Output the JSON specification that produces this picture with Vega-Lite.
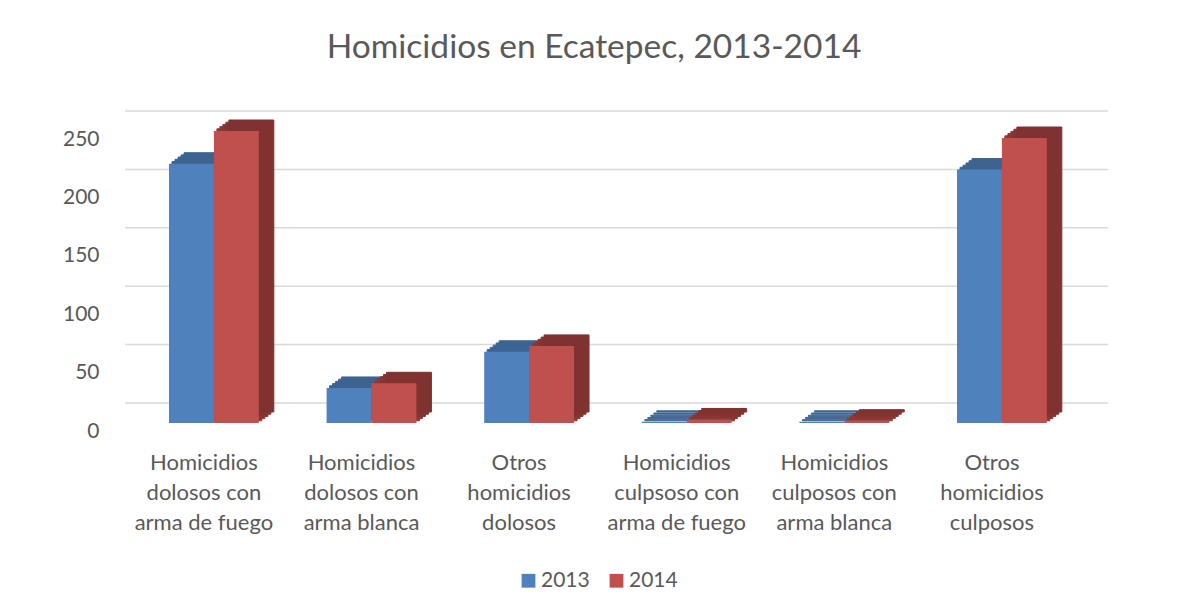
{
  "$schema": "https://vega.github.io/schema/vega-lite/v6.json",
  "autosize": {"type": "none"},
  "padding": {"left": 125, "top": 131, "right": 110, "bottom": 193},
  "width": 948,
  "height": 292,
  "background": "white",
  "title": {
    "text": "Homicidios en Ecatepec, 2013-2014",
    "font": "Lato",
    "fontSize": 33.5,
    "fontWeight": "normal",
    "color": "#595959",
    "anchor": "middle",
    "frame": "group",
    "offset": 45,
    "dx": -5
  },
  "data": {
    "values": [
      {"cat": "Homicidios|dolosos con|arma de fuego", "year": "2013", "value": 222},
      {"cat": "Homicidios|dolosos con|arma de fuego", "year": "2014", "value": 250},
      {"cat": "Homicidios|dolosos con|arma blanca", "year": "2013", "value": 30},
      {"cat": "Homicidios|dolosos con|arma blanca", "year": "2014", "value": 34},
      {"cat": "Otros|homicidios|dolosos", "year": "2013", "value": 61},
      {"cat": "Otros|homicidios|dolosos", "year": "2014", "value": 66},
      {"cat": "Homicidios|culpsoso con|arma de fuego", "year": "2013", "value": 1},
      {"cat": "Homicidios|culpsoso con|arma de fuego", "year": "2014", "value": 3},
      {"cat": "Homicidios|culposos con|arma blanca", "year": "2013", "value": 1},
      {"cat": "Homicidios|culposos con|arma blanca", "year": "2014", "value": 2},
      {"cat": "Otros|homicidios|culposos", "year": "2013", "value": 217},
      {"cat": "Otros|homicidios|culposos", "year": "2014", "value": 244}
    ]
  },
  "layer": [
    {
      "data": {"values": [{"v": 0}, {"v": 50}, {"v": 100}, {"v": 150}, {"v": 200}, {"v": 250}]},
      "mark": {"type": "rule", "color": "#d9d9d9", "strokeWidth": 1.5, "xOffset": 35, "yOffset": -20},
      "encoding": {"y": {"field": "v", "type": "quantitative", "title": null}}
    },
    {
      "encoding": {
        "x": {
          "field": "cat", "type": "nominal", "sort": null, "title": null,
          "scale": {"paddingInner": 0.43, "paddingOuter": 0.2226, "align": 0.627},
          "axis": {
            "domain": false, "ticks": false, "labelAngle": 0, "labelAlign": "center",
            "labelExpr": "split(datum.label, '|')",
            "labelLineHeight": 30, "labelFont": "Lato", "labelFontSize": 22,
            "labelColor": "#595959", "labelPadding": 29, "labelOffset": -10,
            "labelLimit": 300, "labelBaseline": "top"
          }
        },
        "y": {
          "field": "value", "type": "quantitative", "title": null,
          "scale": {"domain": [0, 250], "nice": false},
          "axis": {
            "values": [0, 50, 100, 150, 200, 250],
            "grid": false, "domain": false, "ticks": false,
            "labelFont": "Lato", "labelFontSize": 21, "labelColor": "#595959",
            "labelPadding": 26, "labelOffset": 8
          }
        }
      },
      "layer": [
        {"transform": [{"filter": "datum.year == '2013'"}],
         "mark": {"type": "bar", "width": {"band": 0.5}, "color": "#3d6491", "stroke": "#3d6491", "strokeWidth": 1, "xOffset": -19.45, "yOffset": -2.2}},
        {"transform": [{"filter": "datum.year == '2013'"}],
         "mark": {"type": "bar", "width": {"band": 0.5}, "color": "#3d6491", "stroke": "#3d6491", "strokeWidth": 1, "xOffset": -16.45, "yOffset": -4.4}},
        {"transform": [{"filter": "datum.year == '2013'"}],
         "mark": {"type": "bar", "width": {"band": 0.5}, "color": "#3d6491", "stroke": "#3d6491", "strokeWidth": 1, "xOffset": -13.45, "yOffset": -6.6}},
        {"transform": [{"filter": "datum.year == '2013'"}],
         "mark": {"type": "bar", "width": {"band": 0.5}, "color": "#3d6491", "stroke": "#3d6491", "strokeWidth": 1, "xOffset": -10.45, "yOffset": -8.8}},
        {"transform": [{"filter": "datum.year == '2013'"}],
         "mark": {"type": "bar", "width": {"band": 0.5}, "color": "#3d6491", "stroke": "#3d6491", "strokeWidth": 1, "xOffset": -7.45, "yOffset": -11}},
        {"transform": [{"filter": "datum.year == '2014'"}],
         "mark": {"type": "bar", "width": {"band": 0.5}, "color": "#8e3937", "stroke": "#8e3937", "strokeWidth": 1, "xOffset": 25.45, "yOffset": -2.2}},
        {"transform": [{"filter": "datum.year == '2014'"}],
         "mark": {"type": "bar", "width": {"band": 0.5}, "color": "#8a3735", "stroke": "#8a3735", "strokeWidth": 1, "xOffset": 28.45, "yOffset": -4.4}},
        {"transform": [{"filter": "datum.year == '2014'"}],
         "mark": {"type": "bar", "width": {"band": 0.5}, "color": "#873533", "stroke": "#873533", "strokeWidth": 1, "xOffset": 31.45, "yOffset": -6.6}},
        {"transform": [{"filter": "datum.year == '2014'"}],
         "mark": {"type": "bar", "width": {"band": 0.5}, "color": "#833431", "stroke": "#833431", "strokeWidth": 1, "xOffset": 34.45, "yOffset": -8.8}},
        {"transform": [{"filter": "datum.year == '2014'"}],
         "mark": {"type": "bar", "width": {"band": 0.5}, "color": "#7f3230", "stroke": "#7f3230", "strokeWidth": 1, "xOffset": 37.45, "yOffset": -11}},
        {"transform": [{"filter": "datum.year == '2013'"}],
         "mark": {"type": "bar", "width": {"band": 0.5}, "xOffset": -22.45},
         "encoding": {
           "color": {
             "field": "year", "type": "nominal", "title": null,
             "scale": {"domain": ["2013", "2014"], "range": ["#4f81bd", "#c0504d"]},
             "legend": {
               "orient": "none", "legendX": 393, "legendY": 439,
               "direction": "horizontal", "symbolType": "square", "symbolSize": 190,
               "symbolStrokeWidth": 0, "labelFont": "Lato", "labelFontSize": 21,
               "labelColor": "#595959", "columnPadding": 16, "labelOffset": 2
             }
           }
         }},
        {"transform": [{"filter": "datum.year == '2014'"}],
         "mark": {"type": "bar", "width": {"band": 0.5}, "xOffset": 22.45},
         "encoding": {
           "color": {"field": "year", "type": "nominal", "title": null}
         }}
      ]
    }
  ],
  "config": {
    "view": {"stroke": null}
  }
}
